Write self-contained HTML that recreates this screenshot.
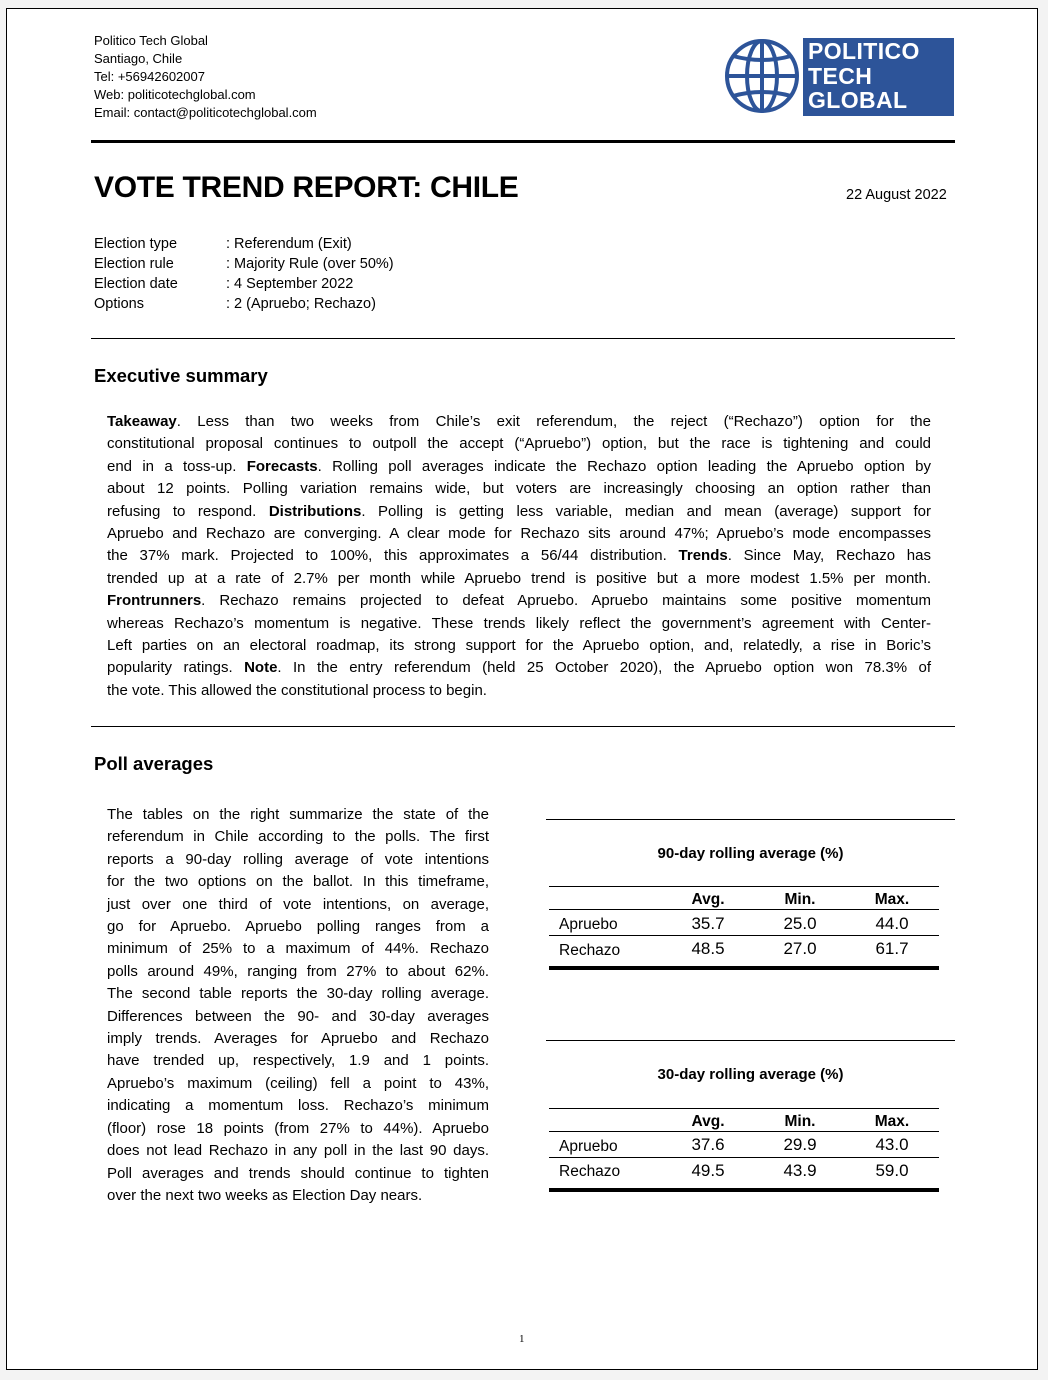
<!DOCTYPE html>
<html><head><meta charset="utf-8">
<style>
html,body{margin:0;padding:0;}
body{width:1048px;height:1380px;background:#f3f3f3;position:relative;font-family:"Liberation Sans",sans-serif;color:#000;overflow:hidden;}
#page{position:absolute;left:6px;top:8px;width:1032px;height:1362px;background:#fff;border:1.5px solid #000;box-sizing:border-box;}
.a{position:absolute;}
.addr{left:94px;top:32px;font-size:13px;line-height:18px;}
.rule{position:absolute;left:91px;width:864px;background:#000;}
h1{position:absolute;left:94px;top:171px;margin:0;font-size:30px;font-weight:bold;letter-spacing:-0.3px;}
.meta{left:94px;top:234px;font-size:14.5px;line-height:20px;}
.meta span{display:inline-block;width:132px;}
h2{position:absolute;left:94px;margin:0;font-size:18.5px;font-weight:bold;}
.para{position:absolute;font-size:15px;line-height:22.4px;}
.para div{text-align:justify;text-align-last:justify;white-space:nowrap;}
.para div.last{text-align-last:left;}
.tbl{position:absolute;left:546px;width:409px;font-size:15.5px;}
.tbl .top{position:absolute;left:0;top:0;width:409px;height:1px;background:#000;}
.tbl .title{position:absolute;left:0;width:409px;text-align:center;top:26px;font-weight:bold;font-size:15px;}
.tbl .l{position:absolute;left:3px;width:390px;background:#000;}
.tbl .c{position:absolute;text-align:center;width:90px;}
</style></head>
<body>
<div id="page">
</div>
<div class="a addr">Politico Tech Global<br>Santiago, Chile<br>Tel: +56942602007<br>Web: politicotechglobal.com<br>Email: contact@politicotechglobal.com</div>

<svg class="a" style="left:724px;top:38px" width="76" height="76" viewBox="0 0 76 76">
<g fill="none" stroke="#2d5499" stroke-width="4">
<circle cx="38" cy="38" r="35"/>
<ellipse cx="38" cy="38" rx="15" ry="35"/>
<line x1="38" y1="3" x2="38" y2="73"/>
<line x1="3" y1="38" x2="73" y2="38"/>
<path d="M9 18 Q38 26 67 18"/>
<path d="M9 58 Q38 50 67 58"/>
</g></svg>
<div class="a" style="left:803px;top:38px;width:151px;height:78px;background:#2d5499;">
<div style="position:absolute;left:5px;top:1px;color:#fff;font-weight:bold;font-size:23px;line-height:24.5px;letter-spacing:0.4px;">POLITICO<br>TECH<br>GLOBAL</div>
</div>

<div class="rule" style="top:140px;height:3px"></div>
<h1>VOTE TREND REPORT: CHILE</h1>
<div class="a" style="left:846px;top:187px;font-size:14.5px">22 August 2022</div>

<div class="a meta">
<div><span>Election type</span>: Referendum (Exit)</div>
<div><span>Election rule</span>: Majority Rule (over 50%)</div>
<div><span>Election date</span>: 4 September 2022</div>
<div><span>Options</span>: 2 (Apruebo; Rechazo)</div>
</div>
<div class="rule" style="top:338px;height:1px"></div>

<h2 style="top:365px">Executive summary</h2>
<div class="para" style="left:107px;top:411px;width:824px">
<div><b>Takeaway</b>. Less than two weeks from Chile’s exit referendum, the reject (“Rechazo”) option for the</div>
<div>constitutional proposal continues to outpoll the accept (“Apruebo”) option, but the race is tightening and could</div>
<div>end in a toss-up. <b>Forecasts</b>. Rolling poll averages indicate the Rechazo option leading the Apruebo option by</div>
<div>about 12 points. Polling variation remains wide, but voters are increasingly choosing an option rather than</div>
<div>refusing to respond. <b>Distributions</b>. Polling is getting less variable, median and mean (average) support for</div>
<div>Apruebo and Rechazo are converging. A clear mode for Rechazo sits around 47%; Apruebo’s mode encompasses</div>
<div>the 37% mark. Projected to 100%, this approximates a 56/44 distribution. <b>Trends</b>. Since May, Rechazo has</div>
<div>trended up at a rate of 2.7% per month while Apruebo trend is positive but a more modest 1.5% per month.</div>
<div><b>Frontrunners</b>. Rechazo remains projected to defeat Apruebo. Apruebo maintains some positive momentum</div>
<div>whereas Rechazo’s momentum is negative. These trends likely reflect the government’s agreement with Center-</div>
<div>Left parties on an electoral roadmap, its strong support for the Apruebo option, and, relatedly, a rise in Boric’s</div>
<div>popularity ratings. <b>Note</b>. In the entry referendum (held 25 October 2020), the Apruebo option won 78.3% of</div>
<div class="last">the vote. This allowed the constitutional process to begin.</div>
</div>
<div class="rule" style="top:726px;height:1px"></div>

<h2 style="top:753px">Poll averages</h2>
<div class="para" style="left:107px;top:804px;width:382px">
<div>The tables on the right summarize the state of the</div>
<div>referendum in Chile according to the polls. The first</div>
<div>reports a 90-day rolling average of vote intentions</div>
<div>for the two options on the ballot. In this timeframe,</div>
<div>just over one third of vote intentions, on average,</div>
<div>go for Apruebo. Apruebo polling ranges from a</div>
<div>minimum of 25% to a maximum of 44%. Rechazo</div>
<div>polls around 49%, ranging from 27% to about 62%.</div>
<div>The second table reports the 30-day rolling average.</div>
<div>Differences between the 90- and 30-day averages</div>
<div>imply trends. Averages for Apruebo and Rechazo</div>
<div>have trended up, respectively, 1.9 and 1 points.</div>
<div>Apruebo’s maximum (ceiling) fell a point to 43%,</div>
<div>indicating a momentum loss. Rechazo’s minimum</div>
<div>(floor) rose 18 points (from 27% to 44%). Apruebo</div>
<div>does not lead Rechazo in any poll in the last 90 days.</div>
<div>Poll averages and trends should continue to tighten</div>
<div class="last">over the next two weeks as Election Day nears.</div>
</div>

<div class="tbl" style="top:819px;height:160px">
<div class="top"></div>
<div class="title">90-day rolling average (%)</div>
<div class="l" style="top:67px;height:1px"></div>
<div class="c" style="left:117px;top:72px;font-weight:bold">Avg.</div>
<div class="c" style="left:209px;top:72px;font-weight:bold">Min.</div>
<div class="c" style="left:301px;top:72px;font-weight:bold">Max.</div>
<div class="l" style="top:90px;height:1px"></div>
<div class="a" style="left:13px;top:97px">Apruebo</div>
<div class="c" style="left:117px;top:95px;font-size:17px">35.7</div>
<div class="c" style="left:209px;top:95px;font-size:17px">25.0</div>
<div class="c" style="left:301px;top:95px;font-size:17px">44.0</div>
<div class="l" style="top:116px;height:1px"></div>
<div class="a" style="left:13px;top:123px">Rechazo</div>
<div class="c" style="left:117px;top:120px;font-size:17px">48.5</div>
<div class="c" style="left:209px;top:120px;font-size:17px">27.0</div>
<div class="c" style="left:301px;top:120px;font-size:17px">61.7</div>
<div class="l" style="top:147px;height:4px"></div>
</div>

<div class="tbl" style="top:1040px;height:160px">
<div class="top"></div>
<div class="title">30-day rolling average (%)</div>
<div class="l" style="top:68px;height:1px"></div>
<div class="c" style="left:117px;top:73px;font-weight:bold">Avg.</div>
<div class="c" style="left:209px;top:73px;font-weight:bold">Min.</div>
<div class="c" style="left:301px;top:73px;font-weight:bold">Max.</div>
<div class="l" style="top:91px;height:1px"></div>
<div class="a" style="left:13px;top:98px">Apruebo</div>
<div class="c" style="left:117px;top:95px;font-size:17px">37.6</div>
<div class="c" style="left:209px;top:95px;font-size:17px">29.9</div>
<div class="c" style="left:301px;top:95px;font-size:17px">43.0</div>
<div class="l" style="top:117px;height:1px"></div>
<div class="a" style="left:13px;top:123px">Rechazo</div>
<div class="c" style="left:117px;top:121px;font-size:17px">49.5</div>
<div class="c" style="left:209px;top:121px;font-size:17px">43.9</div>
<div class="c" style="left:301px;top:121px;font-size:17px">59.0</div>
<div class="l" style="top:148px;height:4px"></div>
</div>

<div class="a" style="left:519px;top:1333px;font-size:11px;font-family:'Liberation Serif',serif">1</div>
</body></html>
